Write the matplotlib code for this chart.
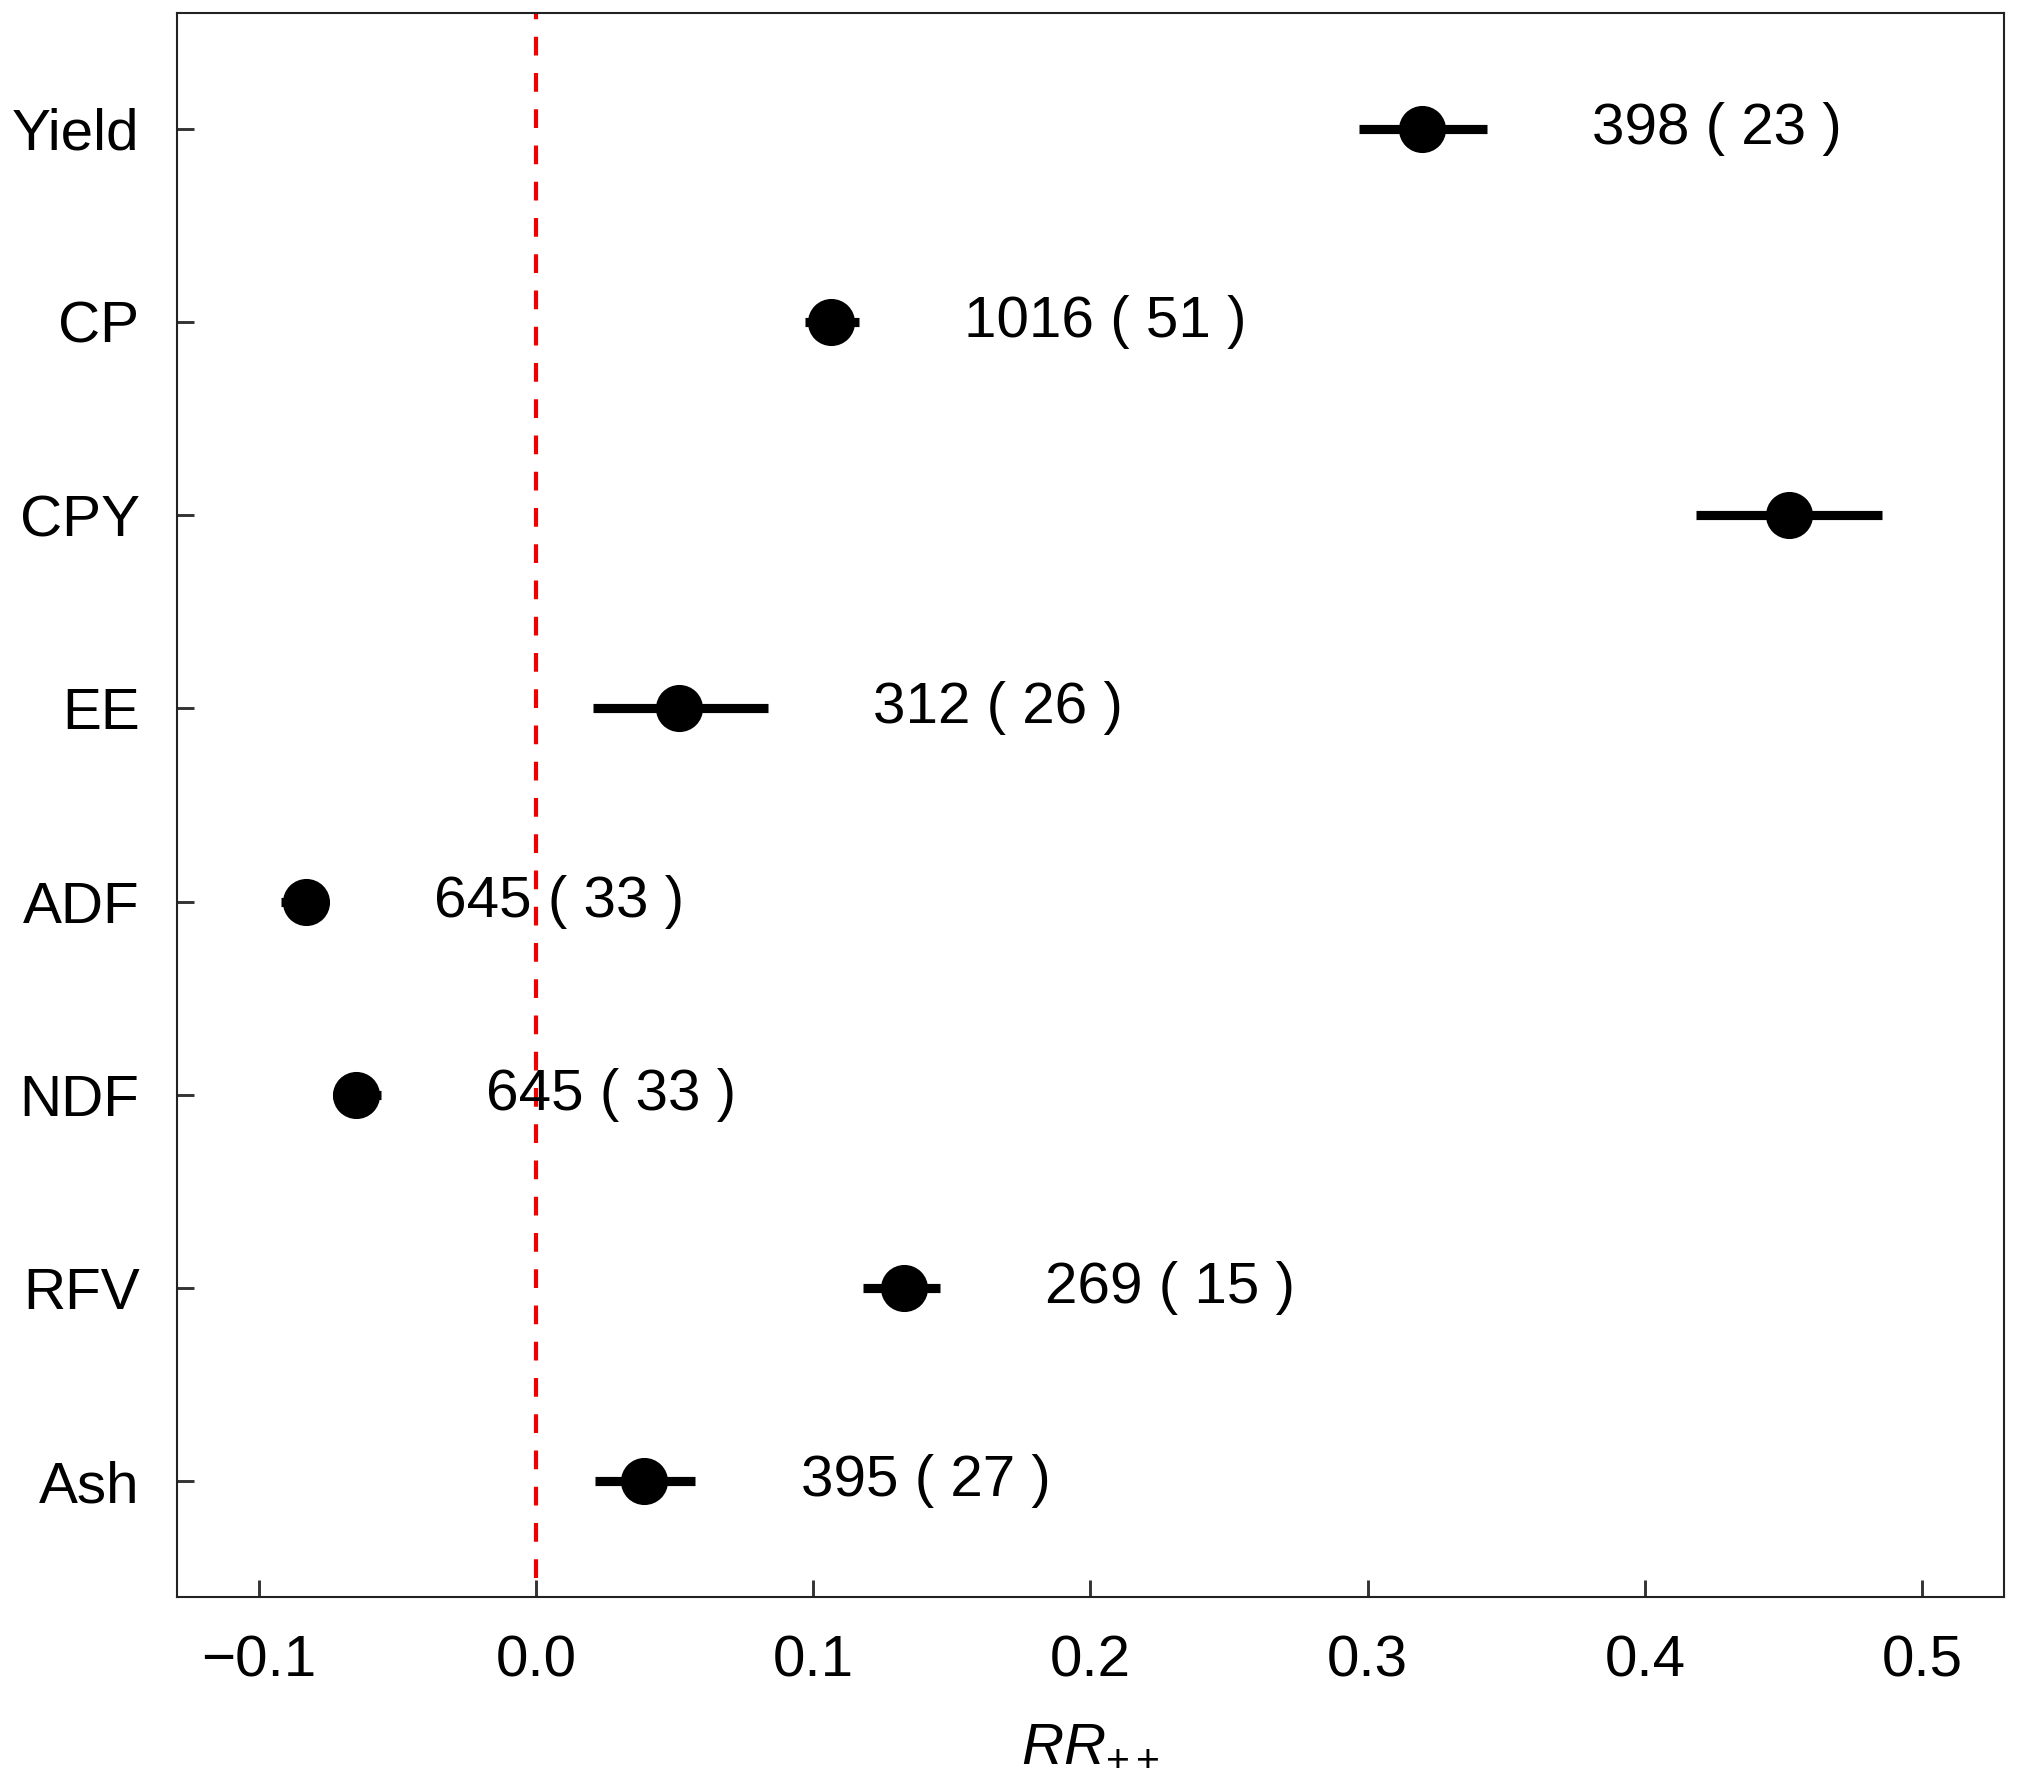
import numpy as np
import matplotlib
matplotlib.use('Agg')
import matplotlib.pyplot as plt

plt.rcParams['font.family'] = ['Liberation Sans', 'DejaVu Sans']
matplotlib.rc('mathtext', **{'fontset': 'custom', 'rm': 'Liberation Sans',
                             'it': 'Liberation Sans:italic', 'bf': 'Liberation Sans:bold'})

# effect sizes and 95% CI, top to bottom
traits = ['Yield', 'CP', 'CPY', 'EE', 'ADF', 'NDF', 'RFV', 'Ash']
rr     = [0.3197, 0.1065, 0.452, 0.0515, -0.083, -0.065, 0.1327, 0.039]
ci_lo  = [0.297, 0.097, 0.4186, 0.0204, -0.0919, -0.0731, 0.118, 0.0213]
ci_hi  = [0.343, 0.1165, 0.4856, 0.0835, -0.0749, -0.0560, 0.1457, 0.0575]
n_obs  = [398, 1016, None, 312, 645, 645, 269, 395]
n_stu  = [23, 51, None, 26, 33, 33, 15, 27]

rr = np.array(rr)
lo = np.array(ci_lo)
hi = np.array(ci_hi)
ypos = np.arange(len(traits), 0, -1)

fig = plt.figure(figsize=(2017/300, 1771/300), dpi=300)
ax = fig.add_axes([0.0878, 0.0983, 0.9058, 0.8944])

ylim = (0.4, 8.6)
ax.axvline(0, ymin=(0.5-ylim[0])/(ylim[1]-ylim[0]), ymax=1, color='#ee0000',
           linewidth=1.0, linestyle=(0, (4.5, 4.2)), zorder=1)

ax.errorbar(rr, ypos, xerr=[rr-lo, hi-rr], fmt='o', color='black', ms=10.3,
            elinewidth=2.2, capsize=0, zorder=3)

for i in range(len(traits)):
    if n_obs[i] is None:
        continue
    ax.text(hi[i] + 0.038, ypos[i], '%d ( %d )' % (n_obs[i], n_stu[i]),
            fontsize=14, ha='left', va='center')

ax.set_xlim(-0.1295, 0.5296)
ax.set_ylim(*ylim)
ax.set_xticks([-0.1, 0.0, 0.1, 0.2, 0.3, 0.4, 0.5])
ax.set_xticklabels(['\u22120.1', '0.0', '0.1', '0.2', '0.3', '0.4', '0.5'])
ax.set_yticks(ypos)
ax.set_yticklabels(traits)
ax.tick_params(axis='x', labelsize=14)
ax.tick_params(axis='y', labelsize=14)
ax.tick_params(which='major', direction='in', length=4, width=0.7,
               color='#333333', pad=9)
for s in ax.spines.values():
    s.set_linewidth(0.5)
    s.set_color('#222222')

ax.set_xlabel(r'$\mathit{RR}_{++}$', fontsize=14, labelpad=7)

plt.savefig('out.png', dpi=300)
